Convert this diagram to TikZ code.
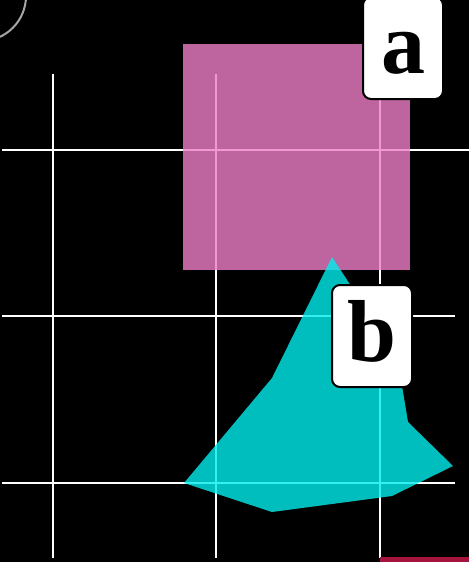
\documentclass[tikz,border=0pt]{standalone}
\usepackage{fontspec}
\setmainfont{Liberation Serif}
\definecolor{PlotMagenta}{RGB}{238, 125, 199}
\definecolor{PlotCyan}{RGB}{0, 238, 238}
\definecolor{PlotCrimson}{RGB}{165, 20, 60}
\usetikzlibrary{positioning}

\begin{document}
\begin{tikzpicture}[x=1pt, y=-1pt,
	gridline/.style={draw=white, line width=2pt},
	region/.style={fill opacity=0.8},
	tag/.style={draw=black, fill=white, line width=2pt, rounded corners=8pt, minimum width=80pt, minimum height=102pt, inner sep=0pt, text height=61pt, text depth=10pt, font=\fontsize{88}{88}\selectfont\bfseries}]
	\useasboundingbox (0,0) rectangle (469,562);
	\fill[black] (0,0) rectangle (469,562);
	% grid
	\foreach \gx in {53, 216, 380} \draw[gridline] (\gx,74) -- (\gx,558);
	\draw[gridline] (2,150) -- (469,150);
	\foreach \gy in {316, 483} \draw[gridline] (2,\gy) -- (455,\gy);
	% corner arc
	\draw[gray!70, line width=2pt] (-19,-4) circle[radius=45];
	% regions
	\fill[region, PlotMagenta] (183,44) rectangle (410,270);
	\fill[region, PlotCyan] (332,257) -- (372,318) -- (402,386) -- (408,422) -- (453,466) -- (392,496) -- (272,512) -- (184,483) -- (272,378) -- cycle;
	\fill[PlotCrimson] (380,557) rectangle (469,562);
	% labels
	\node[tag] (a) at (403,48) {a};
	\node[tag] (b) at (372,336) {b};
\end{tikzpicture}
\end{document}
